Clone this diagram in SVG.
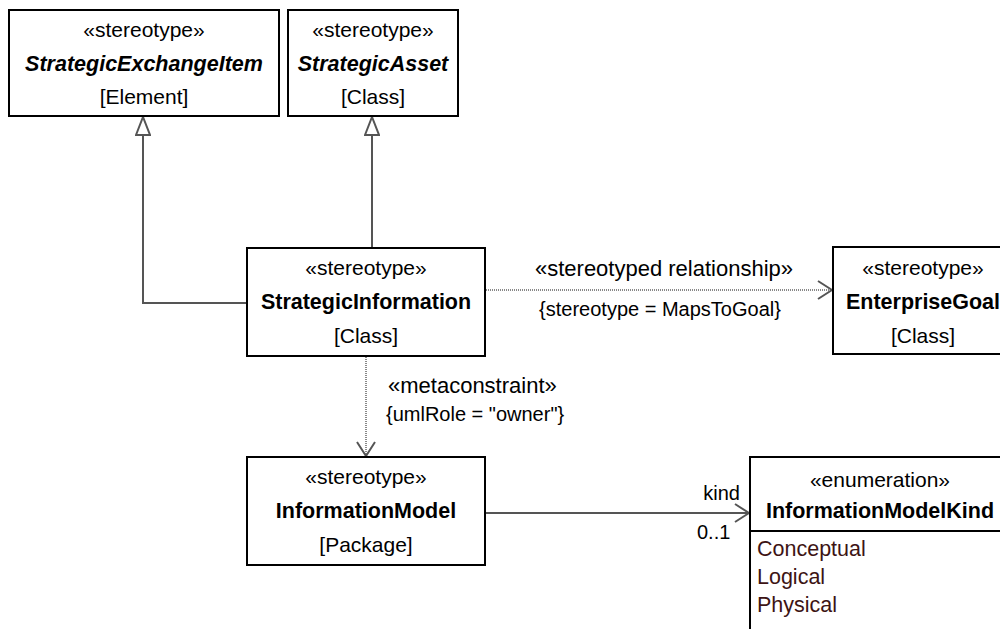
<svg xmlns="http://www.w3.org/2000/svg" width="1000" height="629" viewBox="0 0 1000 629">
<style>
text{font-family:"Liberation Sans",Arial,sans-serif;font-size:21px;fill:#000}
.c{text-anchor:middle}
.b{font-weight:bold;font-size:21.5px}
.bi{font-weight:bold;font-style:italic;font-size:21.5px}
.box{fill:#fff;stroke:#000;stroke-width:2}
.lit{fill:#3d1414;font-size:21.5px}
.gen{fill:none;stroke:#555;stroke-width:2}
.dot{fill:none;stroke:#888;stroke-width:2;stroke-dasharray:1 1}
.asc{fill:none;stroke:#555;stroke-width:2}
.lbl{font-size:20px}
.st{font-size:22px}
</style>
<defs>
<marker id="tri" viewBox="0 0 20 16" refX="19" refY="8" markerWidth="20" markerHeight="16" markerUnits="userSpaceOnUse" orient="auto">
<path d="M1,1 L19,8 L1,15 Z" fill="#fff" stroke="#555" stroke-width="2"/>
</marker>
<marker id="open" viewBox="0 0 16 20" refX="15" refY="10" markerWidth="16" markerHeight="20" markerUnits="userSpaceOnUse" orient="auto">
<path d="M1,1 L15,10 L1,19" fill="none" stroke="#555" stroke-width="2"/>
</marker>
</defs>
<g id="connectors">
<path class="gen" d="M247,303 H143 V117" marker-end="url(#tri)"/>
<path class="gen" d="M372,248 V117" marker-end="url(#tri)"/>
<path class="dot" d="M486,290 H832" marker-end="url(#open)"/>
<path class="dot" d="M366,357 V456" marker-end="url(#open)"/>
<path class="asc" d="M484,513 H749" marker-end="url(#open)"/>
<text class="c st" x="664" y="276">«stereotyped relationship»</text>
<text class="c lbl" x="660" y="316">{stereotype = MapsToGoal}</text>
<text class="st" x="388" y="393">«metaconstraint»</text>
<text class="lbl" x="386" y="421">{umlRole = "owner"}</text>
<text class="lbl" x="740" y="500" text-anchor="end">kind</text>
<text class="lbl" x="697" y="539">0..1</text>
</g>
<g id="StrategicExchangeItem">
<rect class="box" x="9" y="10" width="270" height="106"/>
<text class="c" x="144" y="37">«stereotype»</text>
<text class="c bi" x="144" y="71">StrategicExchangeItem</text>
<text class="c" x="144" y="104">[Element]</text>
</g>
<g id="StrategicAsset">
<rect class="box" x="288" y="10" width="170" height="106"/>
<text class="c" x="373" y="37">«stereotype»</text>
<text class="c bi" x="373" y="71">StrategicAsset</text>
<text class="c" x="373" y="104">[Class]</text>
</g>
<g id="StrategicInformation">
<rect class="box" x="247" y="248" width="238" height="108"/>
<text class="c" x="366" y="275">«stereotype»</text>
<text class="c b" x="366" y="309">StrategicInformation</text>
<text class="c" x="366" y="343">[Class]</text>
</g>
<g id="EnterpriseGoal">
<rect class="box" x="833" y="247" width="180" height="107"/>
<text class="c" x="923" y="275">«stereotype»</text>
<text class="c b" x="923" y="309">EnterpriseGoal</text>
<text class="c" x="923" y="343">[Class]</text>
</g>
<g id="InformationModel">
<rect class="box" x="247" y="457" width="238" height="108"/>
<text class="c" x="366" y="484">«stereotype»</text>
<text class="c b" x="366" y="518">InformationModel</text>
<text class="c" x="366" y="552">[Package]</text>
</g>
<g id="InformationModelKind">
<rect class="box" x="750" y="457" width="260" height="190"/>
<line x1="750" y1="531" x2="1010" y2="531" stroke="#000" stroke-width="2"/>
<text class="c" x="880" y="487">«enumeration»</text>
<text class="c b" x="880" y="518">InformationModelKind</text>
<text class="lit" x="757" y="556">Conceptual</text>
<text class="lit" x="757" y="584">Logical</text>
<text class="lit" x="757" y="612">Physical</text>
</g>
</svg>
